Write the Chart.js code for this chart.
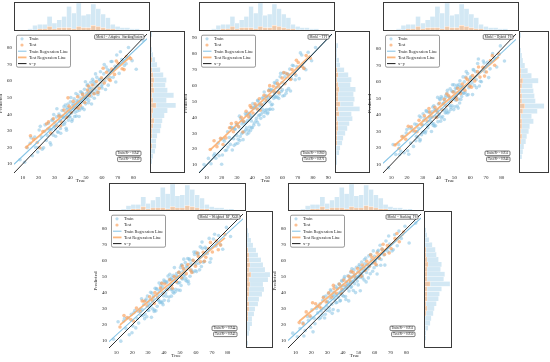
<!DOCTYPE html>
<html><head><meta charset="utf-8">
<script src="https://cdn.jsdelivr.net/npm/chart.js@4"></script>
<style>html,body{margin:0;padding:0;background:#fff;width:550px;height:362px;overflow:hidden;position:relative}canvas{position:absolute}</style>
</head><body>
<script>
// ---------- DATA ----------
const modelNames = ['Model = Adaptive_StackingFusion', 'Model = TFT', 'Model = Hybrid_FS', 'Model = Weighted_RF_XGB', 'Model = Stacking_FS'];
const r2Train = [0.947, 0.960, 0.951, 0.944, 0.951];
const r2Test  = [0.939, 0.971, 0.946, 0.943, 0.950];

const trueTrain = [8.3,11.2,12.9,14.7,16.1,17.6,18.2,19.5,20.4,21.7,22.3,23.8,24.1,24.9,25.6,26.2,26.9,27.3,28.1,28.8,29.2,29.6,29.9,30.2,30.8,31.3,31.9,32.4,32.9,33.5,33.8,34.4,34.9,35.2,35.7,36.1,36.6,37.0,37.4,37.9,38.3,38.6,38.9,39.2,39.6,39.9,40.1,40.7,41.3,41.6,42.2,42.5,43.1,43.4,43.8,44.2,44.6,44.9,45.3,45.8,46.2,46.9,47.3,47.7,48.2,48.5,49.0,49.4,49.8,50.3,50.7,51.1,51.4,51.8,52.2,52.6,53.0,53.3,53.7,54.1,54.4,54.8,55.2,55.7,56.3,56.8,57.2,57.9,58.4,59.1,59.6,59.9,60.4,61.2,61.9,62.7,63.4,64.0,64.7,65.8,67.1,68.3,69.4,70.9,72.6,74.2,76.8,79.1,81.7,85.9,
  15.3,19.9,21.1,23.2,25.9,27.8,28.4,30.5,31.6,32.1,33.2,34.0,35.5,36.3,36.9,37.7,38.1,39.4,40.4,41.0,41.8,42.8,43.6,44.4,45.0,45.6,46.5,47.1,47.9,48.8,49.6,50.1,50.9,51.6,52.4,53.5,54.6,55.5,56.0,57.5,58.7,60.1,61.5,62.3,63.8,65.2,66.4,68.8,71.7,75.3];
const trueTest = [12.4,16.8,19.2,22.7,25.1,27.6,29.4,31.0,32.8,34.3,36.0,37.7,39.3,40.5,41.9,43.6,44.7,46.4,47.8,49.2,50.9,52.1,53.9,55.0,56.6,58.3,59.7,61.5,62.9,64.6,66.2,68.0,70.3,72.8,75.5,78.2,
  14.9,20.8,26.3,33.9,38.6,45.2,51.5,57.4,60.8,65.3,69.1,74.0];

const predTrainAS = [12.5,11.0,19.8,22.4,14.9,26.3,20.1,17.2,30.5,26.4,18.9,29.7,33.6,24.2,27.1,34.5,31.2,22.8,30.6,36.9,27.4,39.8,32.5,35.1,26.7,38.4,33.0,29.3,40.2,36.1,31.4,38.8,42.3,33.6,37.9,44.6,35.2,40.9,31.5,42.8,39.1,46.2,36.4,41.7,44.0,38.3,47.5,40.6,36.8,45.3,43.1,49.4,41.2,46.7,38.9,48.1,44.3,51.6,45.9,42.4,49.8,47.0,53.2,44.1,50.4,47.6,55.1,49.9,46.3,52.7,57.4,50.1,53.8,48.6,56.2,52.4,59.3,50.9,55.5,61.2,53.0,57.8,49.7,58.9,54.6,62.3,57.1,53.4,60.8,65.7,56.9,61.3,58.2,64.4,60.1,68.5,62.0,57.6,66.3,71.9,62.4,69.0,75.8,64.7,73.1,69.5,80.3,72.4,67.2,84.8,
  25.8,19.8,32.7,19.7,31.1,21.5,36.2,31.1,43.3,29.3,39.1,28.5,38.7,34.0,45.6,30.4,44.0,38.5,50.1,35.7,46.3,38.6,52.5,41.9,48.0,38.6,53.6,43.5,52.3,42.8,59.6,48.9,58.0,47.0,55.3,46.2,59.9,52.6,64.4,52.0,61.0,55.9,70.1,55.0,66.8,62.2,71.9,59.5,77.8,70.5];
const predTestAS = [20.1,24.8,22.9,29.6,34.2,28.7,37.3,33.1,38.9,35.4,42.5,38.0,44.9,41.2,47.8,43.9,50.6,45.3,52.0,47.1,54.6,51.3,57.7,52.4,59.8,55.6,62.1,58.9,65.4,61.0,67.3,64.1,70.8,67.5,74.9,73.6,
  27.0,19.8,35.4,33.0,49.9,43.6,57.1,53.2,67.8,60.4,72.2,67.0];

const predTrainTFT = [10.3,14.2,10.8,16.0,14.3,23.8,15.9,26.4,16.3,25.0,19.2,31.0,21.3,27.3,23.0,33.7,19.5,33.3,22.4,32.5,23.3,35.3,28.5,35.6,26.2,33.9,25.4,39.1,29.7,37.7,30.4,36.7,31.1,36.9,32.1,41.4,29.5,38.0,31.9,42.6,33.9,40.1,31.7,41.2,33.5,46.3,33.5,45.7,36.5,46.1,47.6,37.9,45.7,36.9,50.5,41.0,48.8,41.5,47.6,42.0,47.9,43.3,52.6,40.6,49.2,43.0,53.7,45.0,51.3,43.1,52.7,45.0,57.8,45.2,57.2,47.8,57.5,48.2,56.7,52.0,55.7,53.0,61.4,53.4,63.2,52.7,60.5,54.8,65.6,56.3,62.0,57.3,67.9,53.8,67.9,57.0,67.1,58.1,70.4,64.4,72.5,63.7,72.0,64.4,79.3,71.0,81.0,75.7,84.0,90.4,
  17.1,10.5,26.2,19.5,33.5,26.6,32.7,23.7,40.8,28.0,35.8,26.0,42.4,33.4,42.6,30.2,42.0,37.8,48.7,35.1,46.6,39.5,50.7,35.4,47.2,39.4,52.0,45.0,56.0,44.2,53.1,42.3,56.9,49.7,56.9,45.1,62.0,52.5,58.9,51.9,67.7,53.5,65.5,55.2,67.0,56.6,72.8,66.3,80.6,70.0];
const predTestTFT = [19.8,21.6,26.9,27.1,33.5,31.0,36.8,34.2,40.1,37.5,43.9,40.3,46.2,42.8,48.5,45.1,51.7,48.0,53.9,50.4,56.8,53.2,59.6,55.9,61.4,58.7,64.8,61.2,67.5,64.3,70.1,67.4,74.6,72.0,78.9,77.3,
  25.3,22.9,36.1,30.8,47.4,44.5,60.0,55.6,68.3,63.9,76.0,70.8];

const predTrainHFS = [8.0,22.0,16.0,22.0,17.9,27.0,17.1,29.0,18.3,32.1,22.9,30.2,20.9,34.5,24.3,34.1,26.4,31.9,24.2,38.6,28.0,34.2,29.4,40.7,29.6,38.1,30.2,42.1,33.5,41.7,34.0,39.2,36.2,40.9,34.9,42.0,33.6,45.5,33.2,42.9,38.8,42.6,38.4,42.9,35.9,46.6,39.0,49.7,36.2,51.1,50.2,39.0,47.0,42.9,48.6,41.2,51.9,41.5,53.3,41.1,51.2,45.9,55.8,43.3,54.5,45.5,54.2,49.5,58.2,44.9,56.2,50.7,56.0,45.4,57.3,49.6,58.5,47.2,56.6,49.3,57.5,53.3,57.0,53.1,60.0,53.7,62.9,52.0,65.0,56.5,61.3,58.1,63.0,59.4,67.4,57.8,66.1,56.5,71.1,57.5,60.1,72.6,66.1,71.8,67.9,77.1,69.0,81.8,72.6,87.5,
  16.0,31.1,16.2,31.4,27.0,39.3,25.0,36.6,29.0,42.6,32.2,38.4,29.9,44.8,34.6,43.4,33.4,50.6,40.3,49.2,38.2,46.7,37.2,50.6,43.1,54.9,41.9,50.3,44.6,58.3,43.2,54.1,48.9,58.0,44.1,60.7,51.1,63.0,53.1,66.2,52.3,62.4,52.3,67.2,61.4,73.9,60.4,71.4,62.6,74.6];
const predTestHFS = [21.8,26.9,25.2,32.8,30.1,36.7,33.9,39.5,36.2,41.8,38.7,44.6,41.4,47.0,43.3,49.4,45.5,51.6,48.0,53.8,50.6,56.1,52.9,58.7,55.0,61.3,57.4,63.9,60.6,66.2,62.9,68.8,66.0,72.9,70.1,76.8,
  19.6,33.1,29.8,43.9,38.5,52.7,49.2,62.3,56.8,69.0,63.5,75.9];

const predTrainWRX = [11.0,22.0,9.8,22.4,17.8,24.3,13.8,26.6,19.3,29.0,18.1,28.5,21.1,29.8,25.8,29.7,26.0,32.8,26.8,36.2,25.1,38.1,29.1,33.8,30.9,35.8,32.1,39.9,30.0,38.2,28.4,42.9,28.8,42.7,31.6,39.5,35.6,41.3,33.9,44.7,34.4,46.2,33.8,43.8,38.2,48.1,35.4,46.7,38.0,46.5,42.0,50.6,37.4,48.7,43.1,48.6,38.0,49.8,42.1,51.1,39.9,49.6,42.3,50.6,46.5,50.1,46.2,53.0,46.6,55.9,44.7,57.7,48.8,53.5,50.4,55.3,51.3,59.0,49.0,57.0,47.2,61.6,47.4,61.4,50.5,58.4,54.4,60.4,53.1,64.1,53.9,65.6,53.4,63.9,58.6,68.9,56.6,68.0,59.3,68.6,64.7,74.2,61.4,73.8,69.5,76.0,67.4,81.1,75.4,87.7,
  24.1,15.1,27.6,24.0,36.4,23.9,35.2,29.0,40.4,24.7,36.9,29.3,42.3,35.5,46.2,34.3,42.7,32.6,47.3,40.0,47.1,35.1,51.7,42.0,48.4,40.5,55.9,40.8,52.2,41.9,52.9,41.6,57.3,49.1,61.2,48.0,56.1,45.7,60.7,53.3,65.7,58.1,64.9,54.5,71.9,59.9,67.7,59.3,76.8,70.3];
const predTestWRX = [18.7,24.6,23.3,30.5,28.4,34.8,32.0,37.6,35.1,40.2,37.4,43.1,40.0,45.6,42.3,48.2,44.8,50.3,47.0,52.9,49.5,55.2,52.1,57.8,54.3,60.4,56.8,62.9,59.6,65.5,62.4,67.9,65.7,72.5,70.0,76.6,
  25.9,22.4,35.0,33.4,46.1,43.0,56.9,52.8,65.0,59.9,71.7,67.1];

const predTrainSFS = [14.6,12.3,17.5,21.0,16.2,25.1,22.6,18.3,29.2,24.0,20.5,31.4,27.3,23.6,33.0,28.5,25.9,35.2,30.0,26.4,37.9,31.7,28.8,34.6,39.5,30.5,36.3,41.0,32.7,37.8,29.4,40.1,35.6,44.0,38.6,33.8,42.4,37.1,45.3,39.9,35.0,43.7,40.8,47.6,38.4,44.5,41.9,49.0,43.6,37.5,46.8,42.7,50.5,44.9,41.0,48.4,46.3,52.8,43.9,49.7,47.1,54.2,45.6,51.3,48.9,55.9,47.2,53.0,50.1,57.6,49.4,54.7,52.3,59.1,50.6,56.3,53.7,47.9,58.0,55.1,61.6,52.6,57.4,54.8,63.0,56.7,51.8,60.4,58.2,66.1,55.5,62.7,59.3,57.0,65.8,61.4,69.6,60.7,67.2,63.5,72.3,65.8,70.4,66.1,76.2,69.3,73.9,81.5,71.0,83.5,
  12.8,24.5,15.4,30.0,24.3,37.3,24.1,33.9,28.4,41.8,27.0,38.1,33.6,42.8,28.7,45.0,34.8,47.1,37.7,50.0,35.7,45.5,34.8,49.8,43.2,54.9,41.3,50.6,40.0,49.6,44.8,56.4,41.1,55.0,49.1,60.7,46.7,57.4,49.2,63.8,53.4,60.2,51.6,66.5,57.1,66.5,57.2,75.4,66.8,78.5];
const predTestSFS = [21.2,27.9,25.4,33.0,31.1,36.9,34.1,39.8,37.0,42.5,39.6,45.4,42.0,47.8,44.3,50.2,46.7,52.6,49.2,55.0,51.8,57.3,54.0,59.6,56.5,62.1,58.9,64.8,61.6,67.2,63.9,69.5,67.6,73.9,71.8,77.9,
  20.4,33.6,30.1,44.5,39.6,53.4,50.2,63.7,57.6,70.3,64.8,77.0];

// histogram bins (centres) and counts
const histBins = [8.5,11.5,14.5,17.5,20.5,23.5,26.5,29.5,32.5,35.5,38.5,41.5,44.5,47.5,50.5,53.5,56.5,59.5,62.5,65.5,68.5,71.5,74.5,77.5,80.5,83.5,86.5];
const histBinsWide = [8.5,11.5,14.5,17.5,20.5,23.5,26.5,29.5,32.5,35.5,38.5,41.5,44.5,47.5,50.5,53.5,56.5,59.5,62.5,65.5,68.5,71.5,74.5,77.5,80.5,83.5,86.5,89.5];
const topTrainCounts = [1,1,2,5,6,6,13,7,10,13,22,16,25,14,15,24,20,15,12,6,4,3,3,2,2,1,1];
const topTestCounts  = [0,1,1,1,2,2,4,2,3,3,3,2,4,3,3,5,4,3,2,2,1,1,1,1,0,0,0];

const rightTrainAS  = [1,2,3,5,6,6,7,10,11,12,14,17,25,16,23,17,15,16,13,10,7,5,3,2,1,1,2];
const rightTestAS   = [0,0,0,1,2,1,2,2,3,4,2,3,6,3,2,4,3,4,3,2,1,2,1,1,0,0,0];
const rightTrainTFT = [1,2,2,4,5,7,8,10,12,14,17,16,24,18,19,18,20,15,16,13,9,5,4,2,2,3,1,1];
const rightTestTFT  = [0,0,1,1,1,2,2,2,3,3,2,4,3,5,3,3,4,3,2,3,2,1,1,1,1,1,0,0];
const rightTrainHFS = [1,1,3,4,5,7,8,10,11,15,13,19,26,17,16,15,14,20,13,9,6,4,3,2,1,1,2];
const rightTestHFS  = [0,0,0,1,1,2,3,2,3,3,2,4,6,3,3,2,3,4,2,2,1,1,0,0,0,0,0];
const rightTrainWRX = [2,1,3,4,6,6,8,9,12,13,16,18,17,22,24,19,17,15,12,10,7,5,3,2,1,1,1];
const rightTestWRX  = [0,0,0,1,1,2,2,3,3,2,3,3,4,3,5,3,4,3,3,2,1,1,0,0,0,0,0];
const rightTrainSFS = [1,2,2,4,6,7,9,10,12,14,15,17,25,19,20,16,17,14,12,11,8,5,3,2,1,1,1];
const rightTestSFS  = [0,0,0,1,1,1,2,3,2,3,3,3,6,3,3,3,4,3,2,2,1,1,1,0,0,0,0];

// ---------- STYLE / LAYOUT ----------
const FONT = '"Liberation Serif", "Times New Roman", serif';
const C_TRAIN = 'rgba(135,195,228,0.55)';
const C_TEST = 'rgba(250,160,90,0.65)';
const C_TRAIN_LINE = 'rgba(125,192,228,0.95)';
const C_TEST_LINE = 'rgba(252,172,105,0.85)';
const C_HIST_TRAIN = 'rgba(168,210,233,0.5)';
const C_HIST_TEST = 'rgba(252,180,125,0.6)';
const C_FRAME = '#3a3a3a';

const panels = [
  {m:0, tr:predTrainAS,  te:predTestAS,  rb:histBins,     rtr:rightTrainAS,  rte:rightTestAS,  min:4.5, max:88.5, rmax:34, L:14,  R:150, T:31,  B:173, HT:2,   RR:185},
  {m:1, tr:predTrainTFT, te:predTestTFT, rb:histBinsWide, rtr:rightTrainTFT, rte:rightTestTFT, min:5.0, max:92.5, rmax:34, L:199, R:335, T:31,  B:173, HT:2,   RR:370},
  {m:2, tr:predTrainHFS, te:predTestHFS, rb:histBins,     rtr:rightTrainHFS, rte:rightTestHFS, min:4.8, max:89.0, rmax:31, L:383, R:519, T:31,  B:173, HT:2,   RR:549},
  {m:3, tr:predTrainWRX, te:predTestWRX, rb:histBins,     rtr:rightTrainWRX, rte:rightTestWRX, min:5.5, max:89.5, rmax:27, L:109, R:246, T:211, B:348, HT:183, RR:273},
  {m:4, tr:predTrainSFS, te:predTestSFS, rb:histBins,     rtr:rightTrainSFS, rte:rightTestSFS, min:5.3, max:89.2, rmax:27, L:288, R:424, T:211, B:348, HT:183, RR:452}
];

function addCanvas(x, y, w, h) {
  const c = document.createElement('canvas');
  c.width = w; c.height = h;
  c.style.left = x + 'px'; c.style.top = y + 'px';
  c.style.width = w + 'px'; c.style.height = h + 'px';
  document.body.appendChild(c);
  return c;
}
function fit(xs, ys) {
  const n = xs.length; let sx = 0, sy = 0, sxx = 0, sxy = 0;
  for (let i = 0; i < n; i++) { sx += xs[i]; sy += ys[i]; sxx += xs[i]*xs[i]; sxy += xs[i]*ys[i]; }
  const b = (n*sxy - sx*sy) / (n*sxx - sx*sx);
  return {a: (sy - b*sx)/n, b};
}
function rrect(ctx, x, y, w, h, r) {
  ctx.beginPath();
  ctx.moveTo(x + r, y); ctx.lineTo(x + w - r, y); ctx.arcTo(x + w, y, x + w, y + r, r);
  ctx.lineTo(x + w, y + h - r); ctx.arcTo(x + w, y + h, x + w - r, y + h, r);
  ctx.lineTo(x + r, y + h); ctx.arcTo(x, y + h, x, y + h - r, r);
  ctx.lineTo(x, y + r); ctx.arcTo(x, y, x + r, y, r);
  ctx.closePath();
}
const framePlugin = {
  id: 'frame',
  afterDraw(chart) {
    const a = chart.chartArea, ctx = chart.ctx;
    ctx.save(); ctx.strokeStyle = C_FRAME; ctx.lineWidth = 1;
    ctx.strokeRect(a.left + 0.5, a.top + 0.5, a.right - a.left - 1, a.bottom - a.top - 1);
    ctx.restore();
  }
};
function annotPlugin(p) {
  return {
    id: 'annot',
    afterDraw(chart) {
      const a = chart.chartArea, ctx = chart.ctx;
      ctx.save();
      // legend
      const bx = a.left + 2.5, by = a.top + 1.2, bw = 54, bh = 32;
      rrect(ctx, bx, by, bw, bh, 1.5);
      ctx.fillStyle = 'rgba(255,255,255,0.85)'; ctx.fill();
      ctx.strokeStyle = '#555'; ctx.lineWidth = 0.6; ctx.stroke();
      const labels = ['Train', 'Test', 'Train Regression Line', 'Test Regression Line', 'x=y'];
      ctx.font = '4.4px ' + FONT; ctx.textBaseline = 'middle'; ctx.fillStyle = '#222';
      labels.forEach((t, i) => {
        const yy = by + 3.6 + i * 6.2;
        if (i === 0 || i === 1) {
          ctx.beginPath(); ctx.arc(bx + 5.5, yy, 1.6, 0, Math.PI * 2);
          ctx.fillStyle = i === 0 ? C_TRAIN : C_TEST; ctx.fill();
        } else {
          ctx.beginPath(); ctx.moveTo(bx + 1.5, yy); ctx.lineTo(bx + 10, yy);
          ctx.strokeStyle = i === 2 ? C_TRAIN_LINE : (i === 3 ? C_TEST_LINE : '#1a1a1a');
          ctx.lineWidth = i === 3 ? 1.8 : 1; ctx.stroke();
        }
        ctx.fillStyle = '#222'; ctx.fillText(t, bx + 12.5, yy + 0.2);
      });
      // small text boxes
      ctx.font = '3.3px ' + FONT; ctx.textBaseline = 'middle';
      function tbox(txt, right, top) {
        const w = ctx.measureText(txt).width + 3, h = 4.6;
        rrect(ctx, right - w, top, w, h, 1);
        ctx.fillStyle = '#fff'; ctx.fill();
        ctx.strokeStyle = '#222'; ctx.lineWidth = 0.6; ctx.stroke();
        ctx.fillStyle = '#111'; ctx.fillText(txt, right - w + 1.5, top + h / 2 + 0.1);
      }
      tbox(modelNames[p.m], a.right - 3, a.top + 0.6);
      tbox('Train R\u00B2 = ' + r2Train[p.m].toFixed(3), a.right - 6, a.bottom - 22);
      tbox('Test R\u00B2 = ' + r2Test[p.m].toFixed(3), a.right - 6, a.bottom - 16);
      ctx.restore();
    }
  };
}

const common = {responsive: false, animation: false, devicePixelRatio: 1, events: []};
const noTicks = s => { s.ticks = []; };

panels.forEach(p => {
  // ---- main scatter ----
  const YW = 16, XH = 11;
  const cm = addCanvas(p.L - YW, p.T - 1, p.R - p.L + YW + 1, p.B - p.T + 1 + XH);
  const ft = fit(trueTrain, p.tr), fe = fit(trueTest, p.te);
  const teMin = Math.min(...trueTest), teMax = Math.max(...trueTest);
  const axisFont = {family: FONT, size: 5};
  new Chart(cm, {
    type: 'scatter',
    data: {datasets: [
      {type: 'line', data: [{x: p.min, y: p.min}, {x: p.max, y: p.max}], borderColor: '#1a1a1a', borderWidth: 0.9, pointRadius: 0, fill: false, order: 0},
      {type: 'line', data: [{x: p.min, y: ft.a + ft.b * p.min}, {x: p.max, y: ft.a + ft.b * p.max}], borderColor: C_TRAIN_LINE, borderWidth: 1.1, pointRadius: 0, fill: false, order: 1},
      {type: 'line', data: [{x: teMin, y: fe.a + fe.b * teMin}, {x: teMax, y: fe.a + fe.b * teMax}], borderColor: C_TEST_LINE, borderWidth: 1.8, pointRadius: 0, fill: false, order: 1},
      {data: trueTest.map((x, i) => ({x, y: p.te[i]})), backgroundColor: C_TEST, borderWidth: 0, pointRadius: 1.8, order: 3},
      {data: trueTrain.map((x, i) => ({x, y: p.tr[i]})), backgroundColor: C_TRAIN, borderWidth: 0, pointRadius: 1.8, order: 4}
    ]},
    options: Object.assign({}, common, {
      layout: {padding: {left: 0, top: 1, right: 1, bottom: 0}},
      plugins: {legend: {display: false}, tooltip: {enabled: false}},
      scales: {
        x: {type: 'linear', min: p.min, max: p.max, grid: {display: false, drawTicks: false}, border: {display: false},
            ticks: {stepSize: 10, includeBounds: false, font: axisFont, color: '#222', padding: 1.5, maxRotation: 0},
            title: {display: true, text: 'True', font: axisFont, color: '#222', padding: 0},
            afterFit: s => { s.height = XH; s.paddingLeft = 0; s.paddingRight = 0; }},
        y: {type: 'linear', min: p.min, max: p.max, grid: {display: false, drawTicks: false}, border: {display: false},
            ticks: {stepSize: 10, includeBounds: false, font: axisFont, color: '#222', padding: 2},
            title: {display: true, text: 'Predicted', font: axisFont, color: '#222', padding: 0},
            afterFit: s => { s.width = YW; s.paddingTop = 0; s.paddingBottom = 0; }}
      }
    }),
    plugins: [annotPlugin(p)]
  });

  // ---- top histogram (True) ----
  const ct = addCanvas(p.L - 1, p.HT - 1, p.R - p.L + 2, p.T - p.HT + 2);
  new Chart(ct, {
    type: 'bar',
    data: {datasets: [
      {data: histBins.map((b, i) => ({x: b, y: topTrainCounts[i]})), backgroundColor: C_HIST_TRAIN, borderColor: '#fff', borderWidth: 0.4, grouped: false, barPercentage: 1, categoryPercentage: 1, order: 2},
      {data: histBins.map((b, i) => ({x: b, y: topTestCounts[i]})), backgroundColor: C_HIST_TEST, borderColor: '#fff', borderWidth: 0.4, grouped: false, barPercentage: 1, categoryPercentage: 1, order: 1}
    ]},
    options: Object.assign({}, common, {
      layout: {padding: 1},
      plugins: {legend: {display: false}, tooltip: {enabled: false}},
      scales: {x: {type: 'linear', min: p.min, max: p.max, display: false, afterBuildTicks: noTicks}, y: {min: 0, max: 26, display: false}}
    }),
    plugins: [framePlugin]
  });

  // ---- right histogram (Predicted) ----
  const cr = addCanvas(p.R - 1, p.T - 1, p.RR - p.R + 2, p.B - p.T + 2);
  new Chart(cr, {
    type: 'bar',
    data: {datasets: [
      {data: p.rb.map((b, i) => ({y: b, x: p.rtr[i]})), backgroundColor: C_HIST_TRAIN, borderColor: '#fff', borderWidth: 0.4, grouped: false, barPercentage: 1, categoryPercentage: 1, order: 2},
      {data: p.rb.map((b, i) => ({y: b, x: p.rte[i]})), backgroundColor: C_HIST_TEST, borderColor: '#fff', borderWidth: 0.4, grouped: false, barPercentage: 1, categoryPercentage: 1, order: 1}
    ]},
    options: Object.assign({}, common, {
      indexAxis: 'y',
      layout: {padding: 1},
      plugins: {legend: {display: false}, tooltip: {enabled: false}},
      scales: {y: {type: 'linear', min: p.min, max: p.max, display: false, afterBuildTicks: noTicks}, x: {min: 0, max: p.rmax, display: false}}
    }),
    plugins: [framePlugin]
  });
});
</script>
</body></html>
